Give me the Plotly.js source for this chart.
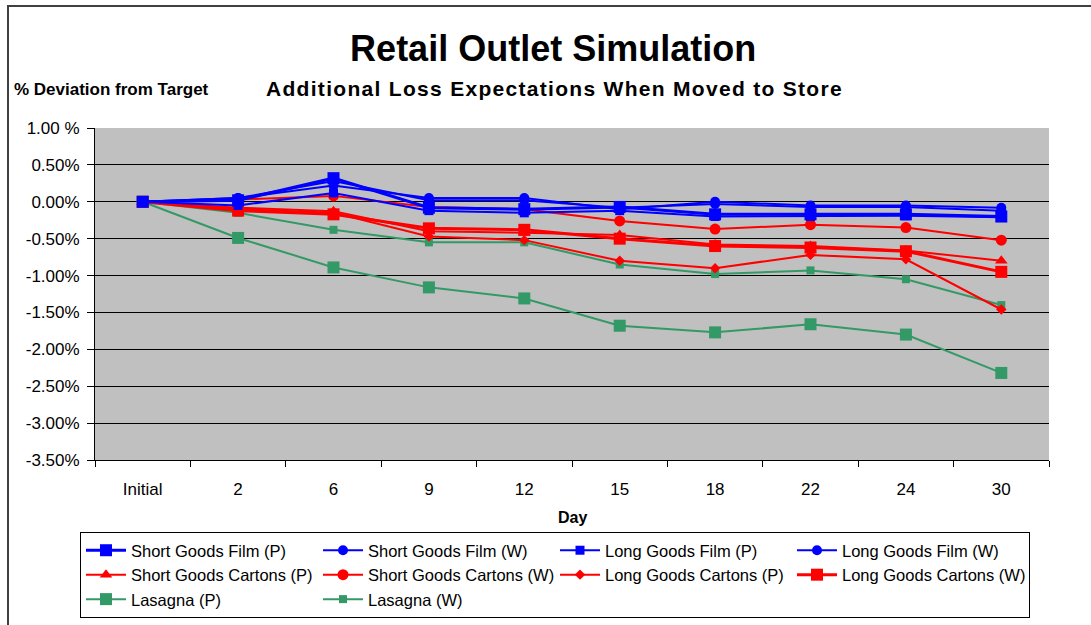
<!DOCTYPE html>
<html>
<head>
<meta charset="utf-8">
<script src="https://cdn.plot.ly/plotly-3.0.1.min.js"></script>
<style>
  html, body { margin: 0; padding: 0; background: #fff; }
  #wrap { position: relative; width: 1091px; height: 625px; overflow: hidden; }
  #chart { position: absolute; left: 0; top: 0; width: 1091px; height: 625px; }
  #frame { position: absolute; left: 7px; top: 5px; width: 1200px; height: 700px;
           border-left: 2px solid #404040; border-top: 2px solid #404040; pointer-events: none; }
</style>
</head>
<body>
<div id="wrap">
  <div id="chart"></div>
  <div id="frame"></div>
</div>
<script>
// ---- Data ----
const days = ["Initial", "2", "6", "9", "12", "15", "18", "22", "24", "30"];

const shortGoodsFilmP    = [0,  0.02, 0.32, -0.08, -0.10, -0.07, -0.17, -0.17, -0.17, -0.20];
const shortGoodsFilmW    = [0,  0.05, 0.22,  0.05,  0.05, -0.10,  0.00, -0.05, -0.05, -0.08];
const longGoodsFilmP     = [0, -0.05, 0.12, -0.12, -0.15, -0.12, -0.20, -0.20, -0.19, -0.21];
const longGoodsFilmW     = [0,  0.05, 0.28,  0.02,  0.02, -0.08, -0.03, -0.07, -0.07, -0.12];

const shortGoodsCartonsP = [0, -0.08, -0.13, -0.40, -0.42, -0.45, -0.58, -0.60, -0.66, -0.80];
const shortGoodsCartonsW = [0,  0.03,  0.08, -0.07, -0.10, -0.26, -0.37, -0.31, -0.35, -0.52];
const longGoodsCartonsP  = [0, -0.10, -0.15, -0.47, -0.52, -0.80, -0.90, -0.72, -0.78, -1.46];
const longGoodsCartonsW  = [0, -0.12, -0.17, -0.36, -0.38, -0.50, -0.60, -0.62, -0.67, -0.95];

const lasagnaP           = [0, -0.49, -0.89, -1.16, -1.31, -1.68, -1.77, -1.66, -1.80, -2.32];
const lasagnaW           = [0, -0.15, -0.38, -0.55, -0.55, -0.85, -0.98, -0.93, -1.05, -1.40];

const yTickVals = [1.0, 0.5, 0, -0.5, -1.0, -1.5, -2.0, -2.5, -3.0, -3.5];
const yTickText = ["1.00 %", "0.50%", "0.00%", "-0.50%", "-1.00%", "-1.50%", "-2.00%", "-2.50%", "-3.00%", "-3.50%"];

// ---- Styles ----
const BLUE = "#0000FF", RED = "#FF0000", GREEN = "#339966";
const FONT = "Liberation Sans, Arial, sans-serif";

function tr(name, y, color, symbol, size, width) {
  return {
    type: "scatter", mode: "lines+markers", name: name, x: days, y: y,
    line: { color: color, width: width },
    marker: { color: color, symbol: symbol, size: size, line: { width: 0 } }
  };
}

const traces = [
  tr("Short Goods Film (P)",    shortGoodsFilmP,    BLUE,  "square",       12, 3),
  tr("Short Goods Film (W)",    shortGoodsFilmW,    BLUE,  "circle",       10, 2),
  tr("Long Goods Film (P)",     longGoodsFilmP,     BLUE,  "square",        9, 2),
  tr("Long Goods Film (W)",     longGoodsFilmW,     BLUE,  "circle",       10, 2),
  tr("Short Goods Cartons (P)", shortGoodsCartonsP, RED,   "triangle-up",  11, 2),
  tr("Short Goods Cartons (W)", shortGoodsCartonsW, RED,   "circle",       11, 2),
  tr("Long Goods Cartons (P)",  longGoodsCartonsP,  RED,   "diamond",       8, 2),
  tr("Long Goods Cartons (W)",  longGoodsCartonsW,  RED,   "square",       12, 3),
  tr("Lasagna (P)",             lasagnaP,           GREEN, "square",       12, 2),
  tr("Lasagna (W)",             lasagnaW,           GREEN, "square",        8, 2)
];
const plotTraces = traces.slice().reverse().map((t, i) => Object.assign(t, { legendrank: 1000 - i }));

const layout = {
  width: 1091, height: 625,
  margin: { l: 95, r: 42, t: 128, b: 165, autoexpand: false },
  paper_bgcolor: "#FFFFFF",
  plot_bgcolor: "#C0C0C0",
  font: { family: FONT, size: 14, color: "#000" },
  showlegend: true,
  title: {
    text: "<b>Retail Outlet Simulation</b>",
    font: { family: FONT, size: 36, color: "#000" },
    x: 0.507, xanchor: "center", xref: "container",
    y: 0.922, yanchor: "middle", yref: "container"
  },
  xaxis: {
    type: "category",
    tickson: "boundaries",
    ticks: "outside", ticklen: 6, tickcolor: "#000", tickwidth: 1,
    ticklabelstandoff: 14,
    showline: true, linecolor: "#000", linewidth: 1,
    showgrid: false, zeroline: false,
    tickfont: { family: FONT, size: 17, color: "#000" },
    range: [-0.5, 9.5]
  },
  yaxis: {
    range: [-3.5, 1.0],
    tickvals: yTickVals, ticktext: yTickText,
    ticks: "outside", ticklen: 7, tickcolor: "#000", tickwidth: 1,
    ticklabelstandoff: 4,
    showline: true, linecolor: "#000", linewidth: 1,
    showgrid: true, gridcolor: "#000", gridwidth: 1,
    zeroline: false,
    tickfont: { family: FONT, size: 17, color: "#000" }
  },
  annotations: [
    { text: "<b><span style=\"letter-spacing:1.3px\">Additional Loss Expectations When Moved to Store</span></b>",
      xref: "paper", yref: "paper", x: 0.482, y: (460 - 88) / 332,
      xanchor: "center", yanchor: "middle", showarrow: false,
      font: { family: FONT, size: 21, color: "#000" } },
    { text: "<b>% Deviation from Target</b>",
      xref: "paper", yref: "paper", x: (12 - 95) / 954, y: (460 - 90) / 332,
      xanchor: "left", yanchor: "middle", showarrow: false,
      font: { family: FONT, size: 17, color: "#000" } },
    { text: "<b>Day</b>",
      xref: "paper", yref: "paper", x: (572 - 95) / 954, y: (460 - 517) / 332,
      xanchor: "center", yanchor: "middle", showarrow: false,
      font: { family: FONT, size: 16, color: "#000" } }
  ],
  legend: {
    orientation: "h",
    x: (80 - 95) / 954, xanchor: "left",
    y: -(532 - 460) / 332, yanchor: "top",
    itemwidth: 40,
    entrywidth: 182, entrywidthmode: "pixels",
    traceorder: "normal",
    bordercolor: "#000", borderwidth: 1, bgcolor: "#FFFFFF",
    font: { family: FONT, size: 16.5, color: "#000" },
    itemclick: false
  }
};

Plotly.newPlot("chart", plotTraces, layout, { staticPlot: true, displayModeBar: false });
</script>
</body>
</html>
